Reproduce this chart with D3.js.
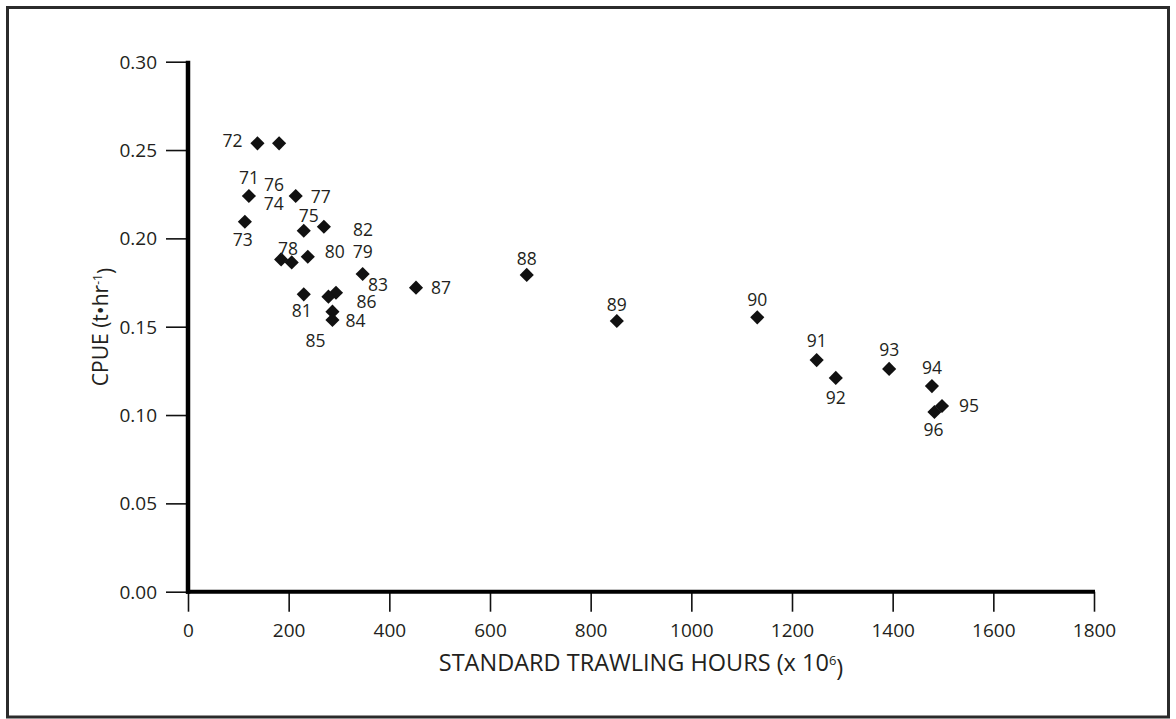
<!DOCTYPE html>
<html>
<head>
<meta charset="utf-8">
<script src="https://cdn.jsdelivr.net/npm/d3@7"></script>
<style>
  html, body { margin: 0; padding: 0; background: #fff; }
  svg { display: block; }
  text { font-family: "Open Sans", "Noto Sans", sans-serif; fill: #231f20; }
</style>
</head>
<body>
<svg id="chart" width="1176" height="719"></svg>
<script>
// ---- data ----
const years  = [71, 72, 73, 74, 75, 76, 77, 78, 79, 80, 81, 82, 83, 84, 85, 86, 87, 88, 89, 90, 91, 92, 93, 94, 95, 96];
const effort = [121, 138, 113, 206, 230, 181, 214, 185, 347, 238, 230, 270, 294, 287, 287, 279, 453, 673, 852, 1131, 1249, 1287, 1393, 1478, 1498, 1483];
const cpue   = [0.224, 0.2538, 0.2094, 0.1864, 0.2043, 0.2538, 0.224, 0.1881, 0.1798, 0.1896, 0.1683, 0.2066, 0.1692, 0.1585, 0.1538, 0.167, 0.1721, 0.1793, 0.1532, 0.1553, 0.1311, 0.121, 0.1261, 0.1164, 0.1051, 0.1017];
const xTicks = [0, 200, 400, 600, 800, 1000, 1200, 1400, 1600, 1800];
const yTicks = [0, 0.05, 0.10, 0.15, 0.20, 0.25, 0.30];

// ---- label layout (pixel offsets of year labels from their marker) ----
const labelDx = [0, -25, -2, -18, 5, -5, 25, 7, 0, 27, -2, 39, 42, 23, -17, 38, 25, 0, 0, 0, 0, 0, 0, 0, 27, -1];
const labelDy = [-19, -3, 17, -59, -16, 41, 0, -11, -23, -6, 16, 2, -9, 8, 20, 4, -1, -17, -17, -18, -20, 19, -20, -19, -1, 17];

const points = years.map((yr, i) => ({ yr, x: effort[i], y: cpue[i], dx: labelDx[i], dy: labelDy[i] }));

const svg = d3.select("#chart");

// frame
svg.append("rect")
  .attr("x", 7.5).attr("y", 7.5).attr("width", 1161).attr("height", 709.5)
  .attr("fill", "none").attr("stroke", "#2b2b2b").attr("stroke-width", 3);

const x = d3.scaleLinear().domain([0, 1800]).range([188, 1094]);
const y = d3.scaleLinear().domain([0, 0.30]).range([591.7, 61.7]);

// y axis
const yAxis = svg.append("g").attr("transform", `translate(${x(0)},0)`)
  .call(d3.axisLeft(y).tickValues(yTicks).tickFormat(d3.format(".2f")).tickSize(22).tickPadding(9));
yAxis.select(".domain").remove();
yAxis.selectAll(".tick line").attr("stroke", "#111").attr("stroke-width", 1.6);
yAxis.selectAll(".tick text").style("font-size", "19px").attr("fill", "#231f20").attr("dy", "0.34em");

// x axis
const xAxis = svg.append("g").attr("transform", `translate(0,${y(0)})`)
  .call(d3.axisBottom(x).tickValues(xTicks).tickFormat(d3.format("d")).tickSize(20).tickPadding(12));
xAxis.select(".domain").remove();
xAxis.selectAll(".tick line").attr("stroke", "#111").attr("stroke-width", 1.6);
xAxis.selectAll(".tick text").style("font-size", "19px").attr("fill", "#231f20");

// thick axis lines
svg.append("line")
  .attr("x1", x(0)).attr("x2", x(0)).attr("y1", y(0.30) - 1).attr("y2", y(0) + 2)
  .attr("stroke", "#000").attr("stroke-width", 4.5);
svg.append("line")
  .attr("x1", x(0) - 2).attr("x2", x(1800) + 1).attr("y1", y(0)).attr("y2", y(0))
  .attr("stroke", "#000").attr("stroke-width", 4);

// markers
const sym = d3.symbol().type(d3.symbolSquare).size(100);
svg.append("g").selectAll("path").data(points).join("path")
  .attr("d", sym)
  .attr("transform", d => `translate(${x(d.x)},${y(d.y)}) rotate(45)`)
  .attr("fill", "#111");

// year labels
svg.append("g").selectAll("text").data(points).join("text")
  .attr("x", d => x(d.x) + d.dx)
  .attr("y", d => y(d.y) + d.dy)
  .attr("text-anchor", "middle")
  .attr("dominant-baseline", "central")
  .style("font-size", "17.5px")
  .text(d => d.yr);

// x title
const xt = svg.append("text")
  .attr("x", 641).attr("y", 671)
  .attr("text-anchor", "middle")
  .style("font-size", "23.5px");
xt.append("tspan").text("STANDARD TRAWLING HOURS (x 10");
xt.append("tspan").attr("dy", "-0.5em").style("font-size", "13px").text("6");
xt.append("tspan").attr("dy", "0.5em").text(")");

// y title
const yt = svg.append("text")
  .attr("transform", "translate(108,327) rotate(-90)")
  .attr("text-anchor", "middle")
  .style("font-size", "21px");
yt.append("tspan").text("CPUE (t\u2022hr");
yt.append("tspan").attr("dy", "-0.5em").style("font-size", "12px").text("-1");
yt.append("tspan").attr("dy", "0.5em").text(")");
</script>
</body>
</html>
